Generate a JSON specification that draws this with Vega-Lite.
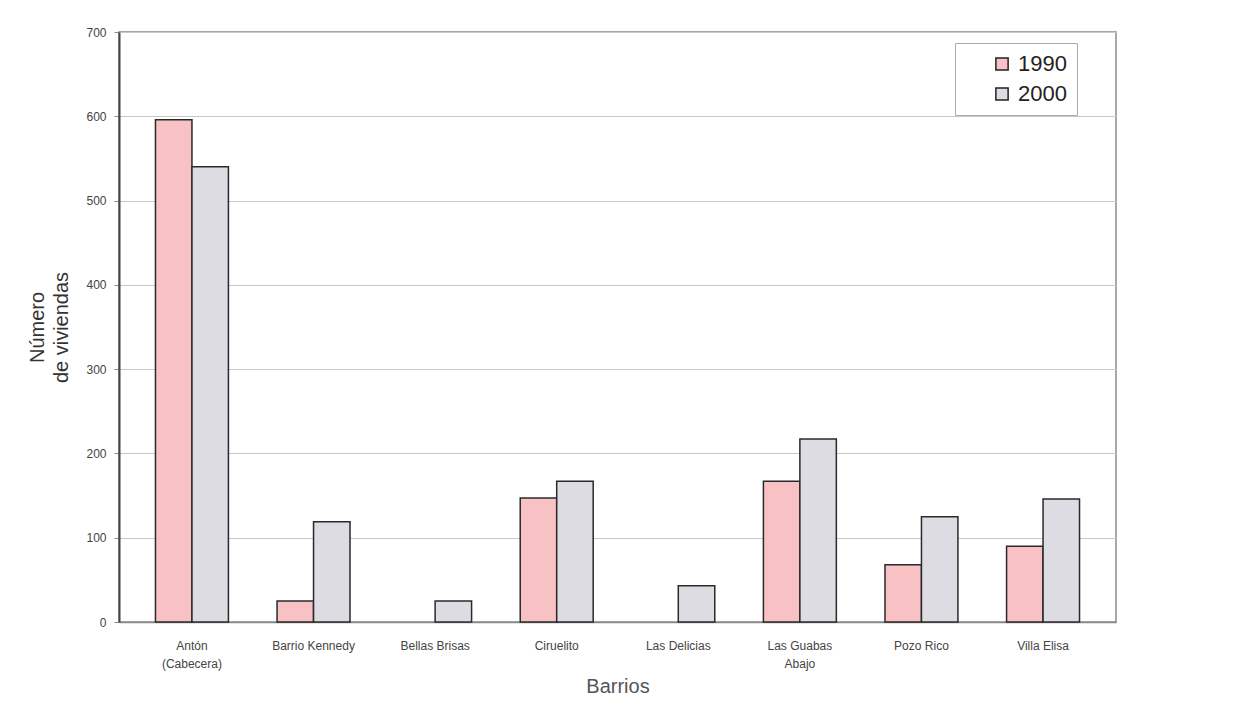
{
  "$schema": "https://vega.github.io/schema/vega-lite/v6.json",
  "width": 997,
  "height": 590,
  "autosize": {"type": "none"},
  "padding": {"left": 119, "top": 32, "right": 117, "bottom": 80},
  "background": "white",
  "config": {
    "font": "Liberation Sans",
    "view": {"stroke": "#8a8a8a", "strokeWidth": 1.5}
  },
  "data": {
    "values": [
      {"barrio": "Antón (Cabecera)", "year": "1990", "viviendas": 596},
      {"barrio": "Antón (Cabecera)", "year": "2000", "viviendas": 540},
      {"barrio": "Barrio Kennedy", "year": "1990", "viviendas": 25},
      {"barrio": "Barrio Kennedy", "year": "2000", "viviendas": 119},
      {"barrio": "Bellas Brisas", "year": "1990", "viviendas": 0},
      {"barrio": "Bellas Brisas", "year": "2000", "viviendas": 25},
      {"barrio": "Ciruelito", "year": "1990", "viviendas": 147},
      {"barrio": "Ciruelito", "year": "2000", "viviendas": 167},
      {"barrio": "Las Delicias", "year": "1990", "viviendas": 0},
      {"barrio": "Las Delicias", "year": "2000", "viviendas": 43},
      {"barrio": "Las Guabas Abajo", "year": "1990", "viviendas": 167},
      {"barrio": "Las Guabas Abajo", "year": "2000", "viviendas": 217},
      {"barrio": "Pozo Rico", "year": "1990", "viviendas": 68},
      {"barrio": "Pozo Rico", "year": "2000", "viviendas": 125},
      {"barrio": "Villa Elisa", "year": "1990", "viviendas": 90},
      {"barrio": "Villa Elisa", "year": "2000", "viviendas": 146}
    ]
  },
  "mark": {"type": "bar", "stroke": "#2a2a2a", "strokeWidth": 1.5},
  "encoding": {
    "x": {
      "field": "barrio",
      "type": "nominal",
      "sort": null,
      "scale": {"paddingInner": 0.4, "paddingOuter": 0.3},
      "axis": {
        "title": "Barrios",
        "titleFont": "Liberation Sans",
        "titleFontSize": 20,
        "titleFontWeight": "normal",
        "titleColor": "#555555",
        "titlePadding": 7,
        "labelAngle": 0,
        "labelFontSize": 12,
        "labelColor": "#444444",
        "labelPadding": 18,
        "labelLineHeight": 18,
        "labelExpr": "datum.label == 'Antón (Cabecera)' ? ['Antón', '(Cabecera)'] : datum.label == 'Las Guabas Abajo' ? ['Las Guabas', 'Abajo'] : datum.label",
        "ticks": false,
        "domainColor": "#8a8a8a",
        "domainWidth": 1.5
      }
    },
    "xOffset": {"field": "year", "type": "nominal", "scale": {"paddingInner": 0}},
    "y": {
      "field": "viviendas",
      "type": "quantitative",
      "scale": {"domain": [0, 700]},
      "axis": {
        "title": ["Número", "de viviendas"],
        "titleFontSize": 20,
        "titleFontWeight": "normal",
        "titleColor": "#333333",
        "titlePadding": 14,
        "titleLineHeight": 24,
        "values": [0, 100, 200, 300, 400, 500, 600, 700],
        "labelFontSize": 12,
        "labelColor": "#444444",
        "labelPadding": 8,
        "tickSize": 5,
        "tickColor": "#8a8a8a",
        "gridColor": "#c8c8c8",
        "gridWidth": 1.2,
        "domainColor": "#444444",
        "domainWidth": 2
      }
    },
    "strokeOpacity": {
      "condition": {"test": "datum.viviendas == 0", "value": 0},
      "value": 1
    },
    "fill": {
      "field": "year",
      "type": "nominal",
      "scale": {"domain": ["1990", "2000"], "range": ["#f8c2c4", "#dcdce2"]},
      "legend": {
        "title": null,
        "orient": "none",
        "legendX": 836,
        "legendY": 11,
        "labelFontSize": 22,
        "labelColor": "#222222",
        "symbolType": "square",
        "symbolSize": 150,
        "symbolOffset": 26,
        "symbolStrokeColor": "#222222",
        "symbolStrokeWidth": 1.5,
        "rowPadding": 8,
        "padding": 10,
        "strokeColor": "#aaaaaa",
        "fillColor": "white",
        "labelOffset": 5
      }
    }
  }
}
